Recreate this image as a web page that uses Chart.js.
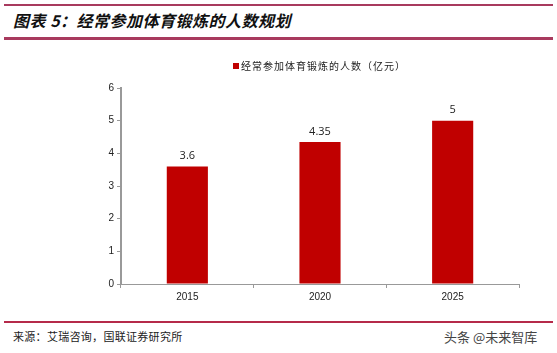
<!DOCTYPE html>
<html>
<head>
<meta charset="utf-8">
<script src="https://cdn.jsdelivr.net/npm/chart.js@4/dist/chart.umd.min.js"></script>
<style>
    body { margin: 0; background: #fff; width: 557px; height: 353px; overflow: hidden; position: relative; font-family: "Noto Sans CJK SC", sans-serif; }
    .linea { position: absolute; left: 4px; right: 4px; }
    #titulo { position: absolute; left: 13px; top: 8px; font-size: 16px; font-weight: bold; font-style: italic; color: #111; letter-spacing: 0.5px; }
    #leyenda { position: absolute; left: 233px; top: 58px; font-size: 10px; color: #222; white-space: nowrap; letter-spacing: 1px; }
    #leyenda span { display: inline-block; width: 6px; height: 6px; background: #c00000; margin-right: 2px; vertical-align: 1px; }
    #fuente { position: absolute; left: 13px; top: 328px; font-size: 11px; color: #222; letter-spacing: 0.3px; }
    #marca { position: absolute; left: 444px; top: 327px; font-size: 13px; color: #444; }
    #contenedor { position: absolute; left: 0; top: 50px; width: 557px; height: 260px; }
</style>
</head>
<body>
<div class="linea" style="top:4px;height:2px;background:#a83a5e;"></div>
<div id="titulo">图表 5：经常参加体育锻炼的人数规划</div>
<div class="linea" style="top:37px;height:3px;background:#a83a5e;"></div>
<div id="contenedor"><canvas id="grafico"></canvas></div>
<div id="leyenda"><span></span><b id="nombre" style="font-weight:normal"></b></div>
<div class="linea" style="top:321px;height:2px;background:#b52a4a;"></div>
<div id="fuente">来源：艾瑞咨询，国联证券研究所</div>
<div id="marca">头条 @未来智库</div>
<script>
// Datos del gráfico
const anios = ['2015', '2020', '2025'];
const personas = [3.6, 4.35, 5];
const etiquetas = ['3.6', '4.35', '5'];
const nombreSerie = '经常参加体育锻炼的人数（亿元）';

document.getElementById('nombre').textContent = nombreSerie;

// Plugin para escribir el valor encima de cada barra
const valoresPlugin = {
    id: 'valores',
    afterDatasetsDraw(chart) {
        const ctx = chart.ctx;
        const meta = chart.getDatasetMeta(0);
        ctx.save();
        ctx.font = '11px "Open Sans", "Liberation Sans", sans-serif';
        ctx.fillStyle = '#222';
        ctx.textAlign = 'center';
        ctx.textBaseline = 'bottom';
        meta.data.forEach(function(barra, i) {
            ctx.fillText(etiquetas[i], barra.x, barra.y - 5);
        });
        ctx.restore();
    }
};

const ctx = document.getElementById('grafico');
new Chart(ctx, {
    type: 'bar',
    data: {
        labels: anios,
        datasets: [{
            label: nombreSerie,
            data: personas,
            backgroundColor: '#c00000',
            borderWidth: 0,
            categoryPercentage: 1,
            barPercentage: 0.31
        }]
    },
    options: {
        responsive: true,
        maintainAspectRatio: false,
        animation: false,
        layout: { padding: { top: 38, right: 38, left: 0, bottom: 0 } },
        plugins: {
            legend: { display: false },
            tooltip: { enabled: false }
        },
        scales: {
            x: {
                grid: { display: true, drawOnChartArea: false, color: '#999', tickLength: 4, offset: true },
                border: { color: '#999', width: 1 },
                ticks: { color: '#222', font: { size: 10, family: '"Liberation Sans", Arial, sans-serif' }, padding: 3 },
                afterFit: function(scale) { scale.height = 26; }
            },
            y: {
                min: 0,
                max: 6,
                grid: { display: true, drawOnChartArea: false, color: '#999', tickLength: 4 },
                border: { color: '#999', width: 2 },
                ticks: { stepSize: 1, color: '#222', font: { size: 10, family: '"Liberation Sans", Arial, sans-serif' }, padding: 3 },
                afterFit: function(scale) { scale.width = 121; }
            }
        }
    },
    plugins: [valoresPlugin]
});
</script>
</body>
</html>
